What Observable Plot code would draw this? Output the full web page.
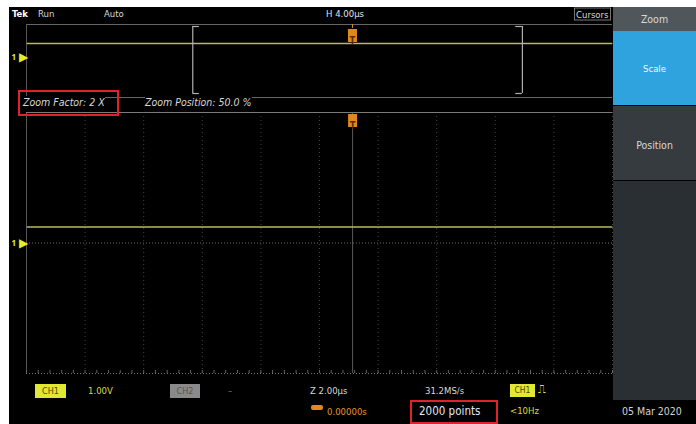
<!DOCTYPE html>
<html><head><meta charset="utf-8">
<script src="https://cdn.jsdelivr.net/npm/d3@7"></script>
<script src="https://cdn.jsdelivr.net/npm/@observablehq/plot@0.6"></script>
<style>
body{margin:0;background:#fff;}
#scope{position:relative;width:696px;height:424px;background:#fff;overflow:hidden;font-family:"DejaVu Sans Condensed","DejaVu Sans",sans-serif;}
#screen{position:absolute;left:9px;top:7px;width:687px;height:417px;background:#000;}
#scope svg{position:absolute;left:0;top:0;}
.lbl{position:absolute;white-space:nowrap;font-size:9.5px;line-height:12px;color:#d8d8d8;transform:translateY(-50%);}
.box{position:absolute;}
</style></head>
<body>
<div id="scope"><div id="screen"></div></div>
<script>
// ---- data ----
// main (zoomed) waveform: time in μs, CH1 level in volts (1.00 V/div)
const zoomTime  = [-11.1, -9, -7, -5, -3, -1, 0, 1, 3, 5, 7, 8.85];
const zoomVolts = [0.49, 0.49, 0.49, 0.49, 0.49, 0.49, 0.49, 0.49, 0.49, 0.49, 0.49, 0.49];
// overview (full record) waveform
const recTime  = [-22.2, -15, -10, -5, 0, 5, 10, 17.7];
const recVolts = [0.5, 0.5, 0.5, 0.5, 0.5, 0.5, 0.5, 0.5];
const zoomWindow = [-10.9, 11.6];       // μs, bracket in overview
const triggerTime = [0];
const topBarText = ["Tek", "Run", "Auto", "H 4.00μs", "Cursors"];
const zoomInfoText = ["Zoom Factor: 2 X", "Zoom Position: 50.0 %"];
const menuText = ["Zoom", "Scale", "Position"];
const bottomRow1 = ["CH1", "1.00V", "CH2", "–", "Z 2.00μs", "31.2MS/s", "CH1", "⎍"];
const bottomRow2 = ["0.00000s", "2000 points", "<10Hz", "05 Mar 2020"];

// ---- scales ----
const mainX = [-11.13, 8.87], mainY = [-4, 4];
const recX = [-22.25, 17.75], recY = [-1.43, 1.18];
const gridTimes = d3.range(0, 11).map(k => mainX[0] + 2 * k);
const minorTimes = d3.range(0, 51).map(k => mainX[0] + 0.4 * k);

const zoomWave = zoomTime.map((t, i) => ({t, v: zoomVolts[i]}));
const recWave = recTime.map((t, i) => ({t, v: recVolts[i]}));

const scope = document.getElementById("scope");
const common = {style:{background:"transparent", overflow:"visible", color:"#ccc"}};

const main = Plot.plot({
  ...common, width:696, height:424,
  marginLeft:26, marginRight:84, marginTop:112, marginBottom:51,
  x:{domain:mainX, axis:null}, y:{domain:mainY, axis:null},
  marks:[
    Plot.ruleX(gridTimes, {x:d=>d, stroke:"#444", strokeDasharray:"1,3"}),
    Plot.ruleY([0], {stroke:"#6a6a6a", strokeDasharray:"1,2"}),
    Plot.ruleX([mainX[0]], {x:d=>d, stroke:"#555"}),
    Plot.ruleX(triggerTime, {x:d=>d, stroke:"#5a5a5a"}),
    Plot.ruleY([mainY[1]], {y:d=>d, stroke:"#7a7a7a"}),
    Plot.ruleY([mainY[0]], {y:d=>d, stroke:"#777", strokeDasharray:"1,2"}),
    Plot.ruleX(minorTimes, {x:d=>d, y1:mainY[0], y2:mainY[0], insetTop:-3, stroke:"#666"}),
    Plot.line(zoomWave, {x:"t", y:"v", stroke:"#b9b95e", strokeWidth:1.6}),
    Plot.text(["▶"], {y:()=>0, frameAnchor:"left", dx:-8, fill:"#e6ee2a", fontSize:12}),
    Plot.text(["1"], {y:()=>0, frameAnchor:"left", dx:-15, fill:"#e6ee2a", fontSize:8, fontWeight:"bold"}),
    Plot.ruleX(triggerTime, {x:d=>d, insetTop:2, insetBottom:246, stroke:"#e0891a", strokeWidth:9}),
    Plot.text(triggerTime, {x:d=>d, frameAnchor:"top", dy:9, text:()=>"T", fill:"#5a2a00", fontSize:10, fontWeight:"bold"})
  ]
});
scope.appendChild(main);

const over = Plot.plot({
  ...common, width:696, height:112,
  marginLeft:26, marginRight:84, marginTop:24, marginBottom:15,
  x:{domain:recX, axis:null}, y:{domain:recY, axis:null},
  marks:[
    Plot.ruleY([recY[1]], {y:d=>d, stroke:"#666"}),
    Plot.ruleY([recY[0]], {y:d=>d, stroke:"#666"}),
    Plot.ruleX([recX[0]], {x:d=>d, stroke:"#555"}),
    Plot.line(recWave, {x:"t", y:"v", stroke:"#b9b95e", strokeWidth:1.4}),
    Plot.ruleX(zoomWindow, {x:d=>d, insetTop:2, insetBottom:4, stroke:"#b0b0b0", strokeWidth:1.2}),
    Plot.ruleY([recY[1]], {y:d=>d, x1:zoomWindow[0], x2:zoomWindow[0]+0.45, dy:2, stroke:"#b0b0b0", strokeWidth:1.2}),
    Plot.ruleY([recY[0]], {y:d=>d, x1:zoomWindow[0], x2:zoomWindow[0]+0.45, dy:-4, stroke:"#b0b0b0", strokeWidth:1.2}),
    Plot.ruleY([recY[1]], {y:d=>d, x1:zoomWindow[1]-0.45, x2:zoomWindow[1], dy:2, stroke:"#b0b0b0", strokeWidth:1.2}),
    Plot.ruleY([recY[0]], {y:d=>d, x1:zoomWindow[1]-0.45, x2:zoomWindow[1], dy:-4, stroke:"#b0b0b0", strokeWidth:1.2}),
    Plot.text(["▶"], {y:()=>0, frameAnchor:"left", dx:-8, fill:"#e6ee2a", fontSize:12}),
    Plot.text(["1"], {y:()=>0, frameAnchor:"left", dx:-15, fill:"#e6ee2a", fontSize:8, fontWeight:"bold"}),
    Plot.ruleX(triggerTime, {x:d=>d, insetTop:0, insetBottom:69, stroke:"#e0891a"}),
    Plot.ruleX(triggerTime, {x:d=>d, insetTop:5, insetBottom:55, stroke:"#e0891a", strokeWidth:9}),
    Plot.text(triggerTime, {x:d=>d, frameAnchor:"top", dy:12, text:()=>"T", fill:"#5a2a00", fontSize:10, fontWeight:"bold"})
  ]
});
scope.appendChild(over);

// ---- screen chrome (HTML overlays) ----
function box(x, y, w, h, css){const d=document.createElement("div");d.className="box";Object.assign(d.style,{left:x+"px",top:y+"px",width:w+"px",height:h+"px"},css||{});scope.appendChild(d);return d;}
function label(t, x, y, css){const d=document.createElement("div");d.className="lbl";d.textContent=t;Object.assign(d.style,{left:x+"px",top:y+"px"},css||{});scope.appendChild(d);return d;}

// right menu panel
box(613, 7, 83, 24, {background:"#51565b"});
box(613, 31, 83, 74, {background:"#2ea3de"});
box(613, 106, 83, 74, {background:"#363b40"});
box(613, 181, 83, 219, {background:"#2a2f33"});
label(menuText[0], 613, 19, {width:"83px", textAlign:"center", fontSize:"10.5px"});
label(menuText[1], 613, 69, {width:"83px", textAlign:"center", fontSize:"9.5px", color:"#f4f8fb"});
label(menuText[2], 613, 145, {width:"83px", textAlign:"center", fontSize:"10.5px"});

// top bar
label(topBarText[0], 12, 14, {fontWeight:"bold", color:"#fff"});
label(topBarText[1], 38, 14);
label(topBarText[2], 104, 14);
label(topBarText[3], 326, 14, {color:"#e0e4f0"});
label(topBarText[4], 574, 14, {border:"1px solid #777", padding:"0 1px", lineHeight:"11px"});

// zoom info
label(zoomInfoText[0], 23, 102, {fontStyle:"italic", fontSize:"10.5px", background:"#000"});
label(zoomInfoText[1], 145, 102, {fontStyle:"italic", fontSize:"10.5px", background:"#000"});
box(18, 90, 97, 22, {border:"2px solid #e0222c"});

// bottom bar, row 1
box(35, 384, 31, 14, {background:"#e2e832"});
label(bottomRow1[0], 35, 391, {width:"31px", textAlign:"center", color:"#4a4a00", fontSize:"9px"});
label(bottomRow1[1], 88, 391, {color:"#d6da48"});
box(170, 384, 30, 14, {background:"#8a8a8a"});
label(bottomRow1[2], 170, 391, {width:"30px", textAlign:"center", color:"#555", fontSize:"9px"});
label(bottomRow1[3], 228, 391, {color:"#777"});
label(bottomRow1[4], 310, 391);
label(bottomRow1[5], 425, 391);
box(510, 384, 25, 13, {background:"#e2e832"});
label(bottomRow1[6], 510, 390, {width:"25px", textAlign:"center", color:"#4a4a00", fontSize:"8.5px"});
label(bottomRow1[7], 538, 390, {color:"#e2e832", fontSize:"11px"});

// bottom bar, row 2
box(311, 405, 12, 5, {background:"#e08a1a", borderRadius:"2px"});
label(bottomRow2[0], 327, 412, {color:"#e39530"});
label(bottomRow2[1], 419, 411, {color:"#e4e6f4", fontSize:"11.5px"});
box(410, 400, 84, 20, {border:"2px solid #e0222c"});
label(bottomRow2[2], 510, 411, {color:"#d6da48"});
label(bottomRow2[3], 622, 411, {color:"#cfd3d8", fontSize:"10.5px"});
</script>
</body></html>
